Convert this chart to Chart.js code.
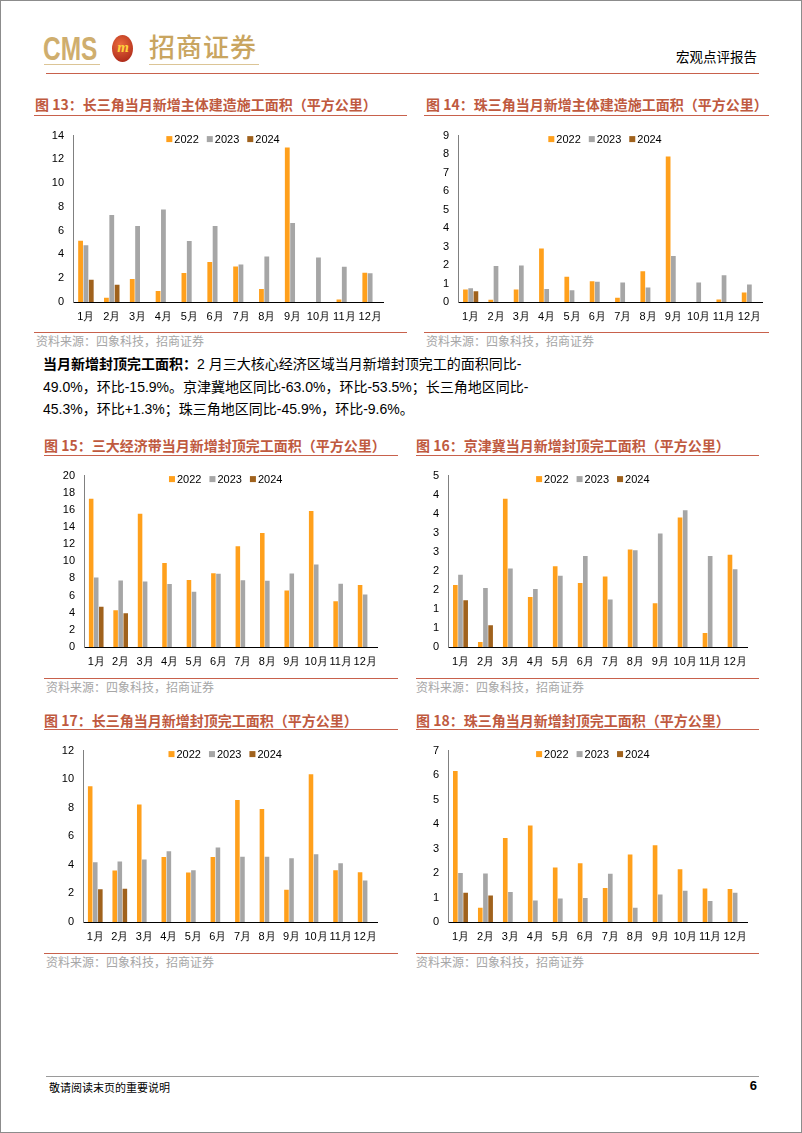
<!DOCTYPE html>
<html>
<head>
<meta charset="utf-8">
<script src="https://cdn.jsdelivr.net/npm/chart.js@4.4.1/dist/chart.umd.min.js"></script>
<style>
body { margin: 0; background: #fff; }
#page { position: relative; width: 802px; height: 1133px; box-sizing: border-box; border: 1px solid #8c8c8c; overflow: hidden;
  font-family: "Liberation Sans", "Noto Sans CJK SC", sans-serif; }
.abs { position: absolute; white-space: nowrap; }
.title { font-family: "Noto Sans CJK SC", sans-serif; font-size: 14px; line-height: 14px; font-weight: bold; color: #bf5a3f; }
.src { font-family: "Noto Sans CJK SC", sans-serif; font-size: 12px; line-height: 12px; color: #a6a6a6; }
.rule { position: absolute; height: 0; border-top: 1px solid #c8614c; }
.para { font-size: 14px; line-height: 14px; color: #000; }
.cbox { position: absolute; }
</style>
</head>
<body>
<div id="page">
  <!-- header -->
  <div class="abs" style="left:42px;top:28px;font-family:'Liberation Sans';font-weight:bold;font-size:34px;color:#cfae6e;transform:scaleX(0.72);transform-origin:left top;">CMS</div>
  <div class="abs" style="left:111px;top:34px;width:21px;height:27px;border-radius:50%;background:radial-gradient(circle at 40% 35%,#ea6a3c,#a11c12);"></div>
  <div class="abs" style="left:113px;top:38px;width:18px;text-align:center;font:italic bold 15px 'Liberation Serif';color:#ffd23c;">m</div>
  <div class="abs" style="left:148px;top:30px;font-family:'Noto Sans CJK SC';font-weight:500;font-size:26px;line-height:30px;color:#c9a560;letter-spacing:1px;">招商证券</div>
  <div class="rule" style="left:43px;top:63px;width:56px;border-top:1.5px solid #dcc596;"></div>
  <div class="rule" style="left:148px;top:63px;width:110px;border-top:1.5px solid #dcc596;"></div>
  <div class="abs" style="right:44px;top:48px;font-family:'Noto Sans CJK SC';font-size:13.5px;line-height:14px;color:#000;">宏观点评报告</div>
  <div class="rule" style="left:45px;top:72px;width:713px;"></div>

  <!-- row 1 -->
  <div class="abs title" style="left:34px;top:96px;">图 13：长三角当月新增主体建造施工面积（平方公里）</div>
  <div class="rule" style="left:33px;top:114px;width:373px;"></div>
  <div class="cbox" id="w13"><canvas id="c13"></canvas></div>
  <div class="rule" style="left:33px;top:331px;width:373px;"></div>
  <div class="abs src" style="left:35px;top:334px;">资料来源：四象科技，招商证券</div>

  <div class="abs title" style="left:425px;top:96px;">图 14：珠三角当月新增主体建造施工面积（平方公里）</div>
  <div class="rule" style="left:423px;top:114px;width:345px;"></div>
  <div class="cbox" id="w14"><canvas id="c14"></canvas></div>
  <div class="rule" style="left:423px;top:331px;width:345px;"></div>
  <div class="abs src" style="left:425px;top:334px;">资料来源：四象科技，招商证券</div>

  <!-- paragraph -->
  <div class="abs para" style="left:42px;top:356px;"><b>当月新增封顶完工面积：</b>2 月三大核心经济区域当月新增封顶完工的面积同比-</div>
  <div class="abs para" style="left:42px;top:379px;">49.0%，环比-15.9%。京津冀地区同比-63.0%，环比-53.5%；长三角地区同比-</div>
  <div class="abs para" style="left:42px;top:401px;">45.3%，环比+1.3%；珠三角地区同比-45.9%，环比-9.6%。</div>

  <!-- row 2 -->
  <div class="abs title" style="left:43px;top:437px;">图 15：三大经济带当月新增封顶完工面积（平方公里）</div>
  <div class="rule" style="left:43px;top:454px;width:354px;"></div>
  <div class="cbox" id="w15"><canvas id="c15"></canvas></div>
  <div class="rule" style="left:43px;top:677px;width:354px;"></div>
  <div class="abs src" style="left:45px;top:680px;">资料来源：四象科技，招商证券</div>

  <div class="abs title" style="left:415px;top:437px;">图 16：京津冀当月新增封顶完工面积（平方公里）</div>
  <div class="rule" style="left:415px;top:454px;width:343px;"></div>
  <div class="cbox" id="w16"><canvas id="c16"></canvas></div>
  <div class="rule" style="left:415px;top:677px;width:343px;"></div>
  <div class="abs src" style="left:415px;top:680px;">资料来源：四象科技，招商证券</div>

  <!-- row 3 -->
  <div class="abs title" style="left:43px;top:712px;">图 17：长三角当月新增封顶完工面积（平方公里）</div>
  <div class="rule" style="left:43px;top:728px;width:354px;"></div>
  <div class="cbox" id="w17"><canvas id="c17"></canvas></div>
  <div class="rule" style="left:43px;top:952px;width:354px;"></div>
  <div class="abs src" style="left:45px;top:955px;">资料来源：四象科技，招商证券</div>

  <div class="abs title" style="left:415px;top:712px;">图 18：珠三角当月新增封顶完工面积（平方公里）</div>
  <div class="rule" style="left:415px;top:728px;width:343px;"></div>
  <div class="cbox" id="w18"><canvas id="c18"></canvas></div>
  <div class="rule" style="left:415px;top:952px;width:343px;"></div>
  <div class="abs src" style="left:415px;top:955px;">资料来源：四象科技，招商证券</div>

  <!-- footer -->
  <div class="rule" style="left:45px;top:1075px;width:713px;border-top:1px solid #9a9a9a;"></div>
  <div class="abs" style="left:48px;top:1080px;font-family:'Noto Sans CJK SC';font-size:11px;line-height:12px;color:#000;">敬请阅读末页的重要说明</div>
  <div class="abs" style="right:44px;top:1078px;font-weight:bold;font-size:13px;line-height:14px;color:#000;">6</div>
</div>

<script>
// months on the x axis
var months = ['1月', '2月', '3月', '4月', '5月', '6月', '7月', '8月', '9月', '10月', '11月', '12月'];
var years = ['2022', '2023', '2024'];
var yearColors = ['#ffa01c', '#a6a6a6', '#a0621d'];

// 图13 长三角 新增主体建造施工
var yrdBuild2022 = [5.15, 0.35, 1.93, 0.92, 2.44, 3.36, 2.98, 1.09, 13.0, null, 0.22, 2.47];
var yrdBuild2023 = [4.77, 7.33, 6.40, 7.79, 5.13, 6.40, 3.15, 3.83, 6.65, 3.74, 2.96, 2.41];
var yrdBuild2024 = [1.87, 1.46];

// 图14 珠三角 新增主体建造施工
var prdBuild2022 = [0.68, 0.12, 0.68, 2.90, 1.36, 1.12, 0.23, 1.66, 7.87, null, 0.14, 0.52];
var prdBuild2023 = [0.75, 1.95, 1.97, 0.70, 0.63, 1.10, 1.05, 0.78, 2.49, 1.06, 1.45, 0.94];
var prdBuild2024 = [0.58];

// 图15 三大经济带 新增封顶完工
var allTop2022 = [17.3, 4.3, 15.55, 9.8, 7.83, 8.62, 11.75, 13.3, 6.6, 15.86, 5.35, 7.23];
var allTop2023 = [8.1, 7.76, 7.65, 7.35, 6.44, 8.55, 7.8, 7.72, 8.59, 9.64, 7.38, 6.14];
var allTop2024 = [4.7, 3.95];

// 图16 京津冀 新增封顶完工
var bthTop2022 = [1.63, 0.13, 3.89, 1.31, 2.12, 1.68, 1.85, 2.56, 1.15, 3.40, 0.37, 2.42];
var bthTop2023 = [1.90, 1.55, 2.06, 1.52, 1.87, 2.39, 1.25, 2.54, 2.98, 3.59, 2.39, 2.04];
var bthTop2024 = [1.23, 0.57];

// 图17 长三角 新增封顶完工
var yrdTop2022 = [9.51, 3.6, 8.22, 4.55, 3.46, 4.55, 8.54, 7.92, 2.26, 10.35, 3.62, 3.49];
var yrdTop2023 = [4.19, 4.23, 4.37, 4.96, 3.62, 5.21, 4.57, 4.57, 4.46, 4.75, 4.12, 2.9];
var yrdTop2024 = [2.29, 2.33];

// 图18 珠三角 新增封顶完工
var prdTop2022 = [6.17, 0.58, 3.43, 3.94, 2.23, 2.4, 1.39, 2.76, 3.13, 2.15, 1.37, 1.35];
var prdTop2023 = [2.0, 1.98, 1.23, 0.88, 0.96, 0.98, 1.97, 0.58, 1.12, 1.28, 0.86, 1.19];
var prdTop2024 = [1.19, 1.08];

var FONT = '"Liberation Sans", Arial, sans-serif';

// legend drawn inside the plot, near the top (like the Excel charts)
var insideLegend = {
  id: 'insideLegend',
  afterDraw: function(chart, args, opts) {
    var ctx = chart.ctx, a = chart.chartArea;
    ctx.save();
    ctx.font = '11px ' + FONT;
    ctx.textBaseline = 'middle';
    var box = 6, gap = 2, space = 8;
    var items = chart.data.datasets.map(function(ds) {
      return { label: ds.label, color: ds.backgroundColor, w: ctx.measureText(ds.label).width };
    });
    var total = space * (items.length - 1);
    items.forEach(function(it) { total += box + gap + it.w; });
    var x = (a.left + a.right) / 2 - total / 2 + (opts.dx || 0);
    var y = a.top + (opts.dy || 3.5);
    items.forEach(function(it) {
      ctx.fillStyle = it.color;
      ctx.fillRect(x, y - box / 2, box, box);
      x += box + gap;
      ctx.fillStyle = '#000';
      ctx.fillText(it.label, x, y + 0.5);
      x += it.w + space;
    });
    ctx.restore();
  }
};

// area = [left, top, right, bottom] of the plot on the page
function makeChart(id, area, yMax, yStep, s22, s23, s24, padR, fmt) {
  var yw = 40, padT = 10, xh = 24;
  var wrap = document.getElementById('w' + id);
  var canvas = document.getElementById('c' + id);
  var left = area[0] - yw, top = area[1] - padT;
  var w = area[2] + padR - left, h = area[3] - area[1] + padT + xh;
  wrap.style.left = left + 'px';
  wrap.style.top = top + 'px';
  canvas.width = w;
  canvas.height = h;
  canvas.style.width = w + 'px';
  canvas.style.height = h + 'px';

  return new Chart(canvas, {
    type: 'bar',
    data: {
      labels: months,
      datasets: [
        { label: years[0], data: s22, backgroundColor: yearColors[0] },
        { label: years[1], data: s23, backgroundColor: yearColors[1] },
        { label: years[2], data: s24, backgroundColor: yearColors[2] }
      ]
    },
    options: {
      responsive: false,
      animation: false,
      layout: { padding: { top: padT, right: padR, left: 0, bottom: 0 } },
      datasets: { bar: { categoryPercentage: 0.62, barPercentage: 0.9 } },
      plugins: {
        legend: { display: false },
        tooltip: { enabled: false },
        insideLegend: { dx: -5, dy: 3.5 }
      },
      scales: {
        x: {
          grid: { display: false, drawTicks: false },
          border: { display: true, color: '#000', width: 1 },
          ticks: { color: '#000', font: { size: 11, family: FONT }, padding: 8, autoSkip: false, maxRotation: 0 },
          afterFit: function(s) { s.height = xh; }
        },
        y: {
          min: 0,
          max: yMax,
          grid: { display: false, drawTicks: false },
          border: { display: true, color: '#808080', width: 1 },
          ticks: { stepSize: yStep, color: '#000', font: { size: 11, family: FONT }, padding: 9, callback: fmt },
          afterFit: function(s) { s.width = yw; }
        }
      }
    },
    plugins: [insideLegend]
  });
}

var plain = function(v) { return v; };
var rounded = function(v) { return Math.round(v); };

makeChart(13, [72, 129, 383, 301], 14, 2, yrdBuild2022, yrdBuild2023, yrdBuild2024, 6, plain);
makeChart(14, [457, 129, 768, 301], 9, 1, prdBuild2022, prdBuild2023, prdBuild2024, 0, plain);
makeChart(15, [83, 469, 378, 646], 20, 2, allTop2022, allTop2023, allTop2024, 6, plain);
makeChart(16, [447, 469, 748, 646], 4.5, 0.5, bthTop2022, bthTop2023, bthTop2024, 6, rounded);
makeChart(17, [82, 744, 378, 921], 12, 2, yrdTop2022, yrdTop2023, yrdTop2024, 6, plain);
makeChart(18, [447, 744, 748, 921], 7, 1, prdTop2022, prdTop2023, prdTop2024, 6, plain);
</script>
</body>
</html>
